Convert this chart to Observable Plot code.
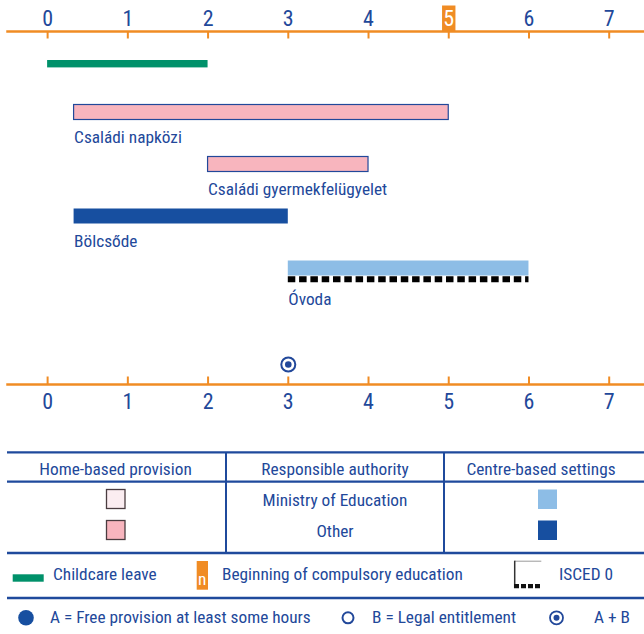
<!DOCTYPE html>
<html>
<head>
<meta charset="utf-8">
<script src="https://cdn.jsdelivr.net/npm/d3@7"></script>
<script src="https://cdn.jsdelivr.net/npm/@observablehq/plot@0.6"></script>
<style>
  html, body { margin: 0; padding: 0; background: #fff; }
  #wrap { width: 644px; }
  svg { display: block; }
</style>
</head>
<body>
<div id="wrap"></div>
<script>
// ---------- data ----------
const ages = [0, 1, 2, 3, 4, 5, 6, 7];
const compulsoryAge = 5;

const leaveStart = [0];
const leaveEnd = [2];

const settingNames = ["Családi napközi", "Családi gyermekfelügyelet", "Bölcsőde", "Óvoda"];
const settingStart = [0.33, 2, 0.33, 3];
const settingEnd = [5, 4, 3, 6];
const settingType = ["home", "home", "centre", "centre"];
const settingAuthority = ["Other", "Other", "Other", "Ministry of Education"];
const settingIsced0 = [false, false, false, true];

const entitlementAge = [3];
const entitlementKind = ["A + B"];

const legendHeaders = ["Home-based provision", "Responsible authority", "Centre-based settings"];
const authorities = ["Ministry of Education", "Other"];

// ---------- styles ----------
const FONT = "'Liberation Sans Narrow', 'Arial Narrow', 'Roboto Condensed', sans-serif";
const FS = "17.3px";
const BLUE = "#22489a";
const ORANGE = "#f08c24";
const GREEN = "#00916a";
const DARKBLUE = "#174fa0";
const colors = {
  "home|Other": "#f8b5be",
  "home|Ministry of Education": "#fbedf1",
  "centre|Ministry of Education": "#8dbde6",
  "centre|Other": DARKBLUE
};

const leave = leaveStart.map((s, i) => ({row: "leave", start: s, end: leaveEnd[i]}));
const settings = settingNames.map((n, i) => ({
  name: n, start: settingStart[i], end: settingEnd[i],
  type: settingType[i], authority: settingAuthority[i], isced0: settingIsced0[i]
}));
const entitlements = entitlementAge.map((a, i) => ({age: a, kind: entitlementKind[i]}));
const rows = ["leave", ...settingNames];

const tickLine = {draw(ctx, l) { ctx.moveTo(0, 0); ctx.lineTo(0, -l); }};
const boxShape = {draw(ctx, l) { ctx.rect(-6.7, -l, 13.4, l); }};

const chart = Plot.plot({
  width: 644,
  height: 440,
  marginLeft: 7,
  marginRight: 0,
  marginTop: 31,
  marginBottom: 56,
  x: {domain: [-0.5, 7.44], axis: null},
  y: {type: "band", domain: rows, range: [50.3, 277.1], paddingInner: 0.6964, paddingOuter: 0, axis: null},
  style: {fontFamily: FONT, fontSize: FS, background: "white", color: BLUE},
  marks: [
    // top axis
    Plot.frame({anchor: "top", stroke: ORANGE, strokeWidth: 2.5}),
    Plot.vector(ages, {x: d => d, frameAnchor: "top", length: 7, rotate: 180, anchor: "start", shape: tickLine, stroke: ORANGE, strokeWidth: 2, strokeLinecap: "butt"}),
    Plot.vector([compulsoryAge], {x: d => d, frameAnchor: "top", length: 26, anchor: "start", shape: boxShape, fill: ORANGE, stroke: "none"}),
    Plot.text(ages.filter(a => a !== compulsoryAge), {x: d => d, text: d => String(d), frameAnchor: "top", dy: -6, lineAnchor: "bottom", fill: BLUE, fontSize: 22}),
    Plot.text([compulsoryAge], {x: d => d, text: d => String(d), frameAnchor: "top", dy: -6, lineAnchor: "bottom", fill: "white", fontSize: 22}),
    // bottom axis
    Plot.frame({anchor: "bottom", stroke: ORANGE, strokeWidth: 2.5}),
    Plot.vector(ages, {x: d => d, frameAnchor: "bottom", length: 8, anchor: "start", shape: tickLine, stroke: ORANGE, strokeWidth: 2, strokeLinecap: "butt"}),
    Plot.text(ages, {x: d => d, text: d => String(d), frameAnchor: "bottom", dy: 9, lineAnchor: "top", fill: BLUE, fontSize: 22}),
    // childcare leave
    Plot.barX(leave, {x1: "start", x2: "end", y: "row", fill: GREEN, insetTop: 4.3, insetBottom: 4.3, dy: 3.7}),
    // settings
    Plot.barX(settings, {
      x1: "start", x2: "end", y: "name",
      fill: d => colors[d.type + "|" + d.authority],
      stroke: d => d.type === "home" ? BLUE : "none",
      strokeWidth: 1.2,
      insetTop: 0.5, insetBottom: 0.5
    }),
    Plot.ruleY(settings.filter(d => d.isced0), {x1: "start", x2: "end", y: "name", dy: 10.8, stroke: "black", strokeWidth: 6, strokeDasharray: "7.5,3.8"}),
    Plot.text(settings.filter(d => !d.isced0), {x: "start", y: "name", text: "name", textAnchor: "start", lineAnchor: "bottom", dy: 30.6, fill: BLUE}),
    Plot.text(settings.filter(d => d.isced0), {x: "start", y: "name", text: "name", textAnchor: "start", lineAnchor: "bottom", dy: 36.5, fill: BLUE}),
    // entitlement symbols
    Plot.dot(entitlements, {x: "age", frameAnchor: "bottom", dy: -20, r: 7, stroke: BLUE, strokeWidth: 2, fill: "white"}),
    Plot.dot(entitlements.filter(d => d.kind === "A + B"), {x: "age", frameAnchor: "bottom", dy: -20, r: 3.3, fill: BLUE, stroke: "none"})
  ]
});
document.getElementById("wrap").appendChild(chart);

// ---------- legend ----------
const L = d3.select("#wrap").append("svg")
  .attr("width", 644).attr("height", 194)
  .style("font-family", FONT).style("font-size", FS);
const hline = y => L.append("line").attr("x1", 7).attr("x2", 644).attr("y1", y).attr("y2", y).attr("stroke", "#1f4a9c").attr("stroke-width", 2.3);
[12.3, 41.7, 113, 158].forEach(hline);
[226, 444].forEach(x => L.append("line").attr("x1", x).attr("x2", x).attr("y1", 12.3).attr("y2", 113).attr("stroke", "#1f4a9c").attr("stroke-width", 2));
const text = (x, y, s, anchor = "start", fill = BLUE) =>
  L.append("text").attr("x", x).attr("y", y).attr("text-anchor", anchor).attr("fill", fill).text(s);
[115.5, 335, 541].forEach((x, i) => text(x, 34.5, legendHeaders[i], "middle"));
authorities.forEach((a, i) => {
  const yc = i === 0 ? 59 : 90;
  text(335, yc + 6.5, a, "middle");
  L.append("rect").attr("x", 106.5).attr("y", yc - 9.5).attr("width", 18.5).attr("height", 19)
    .attr("fill", colors["home|" + a]).attr("stroke", "#4a3c40").attr("stroke-width", 1.3);
  L.append("rect").attr("x", 538).attr("y", yc - 9.5).attr("width", 19).attr("height", 19.5)
    .attr("fill", colors["centre|" + a]);
});
// row 3
L.append("rect").attr("x", 12.7).attr("y", 134.3).attr("width", 31).attr("height", 7.4).attr("fill", GREEN);
text(53, 140, "Childcare leave");
L.append("rect").attr("x", 196.7).attr("y", 121).attr("width", 11.3).attr("height", 28.7).attr("fill", ORANGE);
text(202.3, 145, "n", "middle", "white");
text(222, 140, "Beginning of compulsory education");
L.append("line").attr("x1", 514.7).attr("x2", 541.3).attr("y1", 121.2).attr("y2", 121.2).attr("stroke", "#9a9a9a").attr("stroke-width", 1);
L.append("line").attr("x1", 514.7).attr("x2", 514.7).attr("y1", 120.7).attr("y2", 148).attr("stroke", "#333").attr("stroke-width", 1.5);
L.append("line").attr("x1", 514).attr("x2", 541.3).attr("y1", 146.2).attr("y2", 146.2).attr("stroke", "#111").attr("stroke-width", 4.2).attr("stroke-dasharray", "5,2");
text(559, 140, "ISCED 0");
// row 4
L.append("circle").attr("cx", 26).attr("cy", 177.8).attr("r", 7.8).attr("fill", DARKBLUE);
text(50, 183.3, "A = Free provision at least some hours");
L.append("circle").attr("cx", 348).attr("cy", 177.8).attr("r", 5.5).attr("fill", "white").attr("stroke", BLUE).attr("stroke-width", 2);
text(372, 183.3, "B = Legal entitlement");
L.append("circle").attr("cx", 556.5).attr("cy", 177.8).attr("r", 6.5).attr("fill", "white").attr("stroke", BLUE).attr("stroke-width", 1.8);
L.append("circle").attr("cx", 556.5).attr("cy", 177.8).attr("r", 3).attr("fill", BLUE);
text(594, 183.3, "A + B");
</script>
</body>
</html>
